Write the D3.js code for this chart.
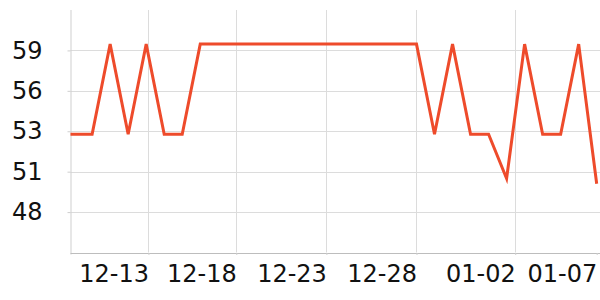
<!DOCTYPE html>
<html>
<head>
<meta charset="utf-8">
<script src="https://cdn.jsdelivr.net/npm/d3@7/dist/d3.min.js"></script>
<style>
  html, body { margin: 0; padding: 0; background: #fff; }
  svg { display: block; font-family: "DejaVu Sans", sans-serif; }
</style>
</head>
<body>
<svg id="chart" width="600" height="300"></svg>
<script>
// ---- data ----
const dates = [
  "2023-12-08","2023-12-09","2023-12-10","2023-12-11","2023-12-12","2023-12-13",
  "2023-12-14","2023-12-15","2023-12-16","2023-12-17","2023-12-18","2023-12-19",
  "2023-12-20","2023-12-21","2023-12-22","2023-12-23","2023-12-24","2023-12-25",
  "2023-12-26","2023-12-27","2023-12-28","2023-12-29","2023-12-30","2023-12-31",
  "2024-01-01","2024-01-02","2024-01-03","2024-01-04","2024-01-05","2024-01-06",
  "2024-01-07"
];
const values = [
  53.1, 53.1, 53.1, 59.23, 53.1, 59.23,
  53.1, 53.1, 59.23, 59.23, 59.23, 59.23,
  59.23, 59.23, 59.23, 59.23, 59.23, 59.23,
  59.23, 59.23, 59.23, 53.1, 59.23, 53.1,
  53.1, 50.08, 59.23, 53.1, 53.1, 59.23,
  49.73
];
const xDomain = ["2023-12-08T19:12", "2024-01-07T04:24"];
const xTickValues = ["2023-12-13T03:00", "2023-12-18T00:00", "2023-12-23T00:00",
                     "2023-12-28T00:00", "2024-01-02T11:30", "2024-01-07T00:00"];
const yDomain = [45.05, 61.55];
const yTickValues = [47.8, 50.55, 53.3, 56.05, 58.8];

// ---- layout ----
const W = 600, H = 300;
const mLeft = 70.5, mRight = 600, mTop = 10, mBottom = 252.5;

const parse = d3.isoParse;
const data = dates.map((d, i) => ({ date: parse(d), value: values[i] }));

const x = d3.scaleTime().domain(xDomain.map(parse)).range([mLeft, mRight]);
const y = d3.scaleLinear().domain(yDomain).range([mBottom, mTop]);

const svg = d3.select("#chart");

svg.append("defs").append("clipPath").attr("id", "clip")
  .append("rect").attr("x", mLeft).attr("y", 0).attr("width", mRight - mLeft).attr("height", H);

// horizontal grid
svg.append("g")
  .selectAll("line").data(yTickValues).join("line")
  .attr("x1", mLeft).attr("x2", mRight)
  .attr("y1", d => Math.round(y(d)) + 0.5).attr("y2", d => Math.round(y(d)) + 0.5)
  .attr("stroke", "#dcdcdc").attr("stroke-width", 1);

// vertical grid
const xt = xTickValues.map(parse);
svg.append("g")
  .selectAll("line").data(xt.filter(d => x(d) < mRight - 5)).join("line")
  .attr("x1", d => Math.round(x(d)) + 0.5).attr("x2", d => Math.round(x(d)) + 0.5)
  .attr("y1", mTop).attr("y2", mBottom)
  .attr("stroke", "#dcdcdc").attr("stroke-width", 1);

// y axis
const yAxis = d3.axisLeft(y).tickValues(yTickValues).tickFormat(d3.format(".0f"))
  .tickSize(3).tickPadding(25);
const gy = svg.append("g").attr("transform", `translate(${mLeft},0)`).call(yAxis);
gy.select(".domain").attr("stroke", "#cfcfcf").attr("d", `M0.5,${mTop}V${mBottom + 2}`);
gy.selectAll(".tick line").attr("stroke", "#cfcfcf");
gy.selectAll("text").attr("font-size", 24).attr("fill", "#111")
  .attr("font-family", "DejaVu Sans, sans-serif");

// x axis
const xAxis = d3.axisBottom(x).tickValues(xt).tickFormat(d3.timeFormat("%m-%d"))
  .tickSize(2).tickPadding(10);
const gx = svg.append("g").attr("transform", `translate(0,${Math.round(mBottom)})`).call(xAxis);
gx.select(".domain").attr("stroke", "#bdbdbd").attr("d", `M${mLeft},0.5H${mRight}`);
gx.selectAll(".tick line").attr("stroke", "#cfcfcf");
gx.selectAll("text").attr("font-size", 24).attr("fill", "#111")
  .attr("text-anchor", "end")
  .attr("font-family", "DejaVu Sans, sans-serif");

// line
const line = d3.line().x(d => x(d.date)).y(d => y(d.value));
svg.append("path").datum(data)
  .attr("clip-path", "url(#clip)")
  .attr("fill", "none")
  .attr("stroke", "#ee4b2b")
  .attr("stroke-width", 3)
  .attr("stroke-linejoin", "miter")
  .attr("d", line);
</script>
</body>
</html>
